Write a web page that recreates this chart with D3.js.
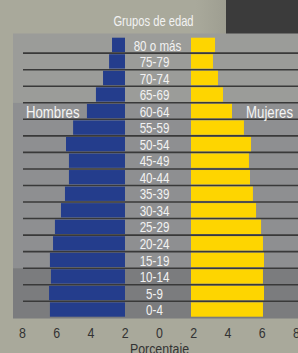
<!DOCTYPE html>
<html>
<head>
<meta charset="utf-8">
<script src="https://cdn.jsdelivr.net/npm/d3@7"></script>
<style>
  html, body { margin: 0; padding: 0; background: #a9a99b; }
  svg { display: block; }
  text { font-family: "Liberation Sans", Arial, sans-serif; }
</style>
</head>
<body>
<svg id="chart" width="298" height="353"></svg>
<script>
// age groups, top to bottom
var ageGroups = ['80 o más','75-79','70-74','65-69','60-64','55-59','50-54','45-49',
                 '40-44','35-39','30-34','25-29','20-24','15-19','10-14','5-9','0-4'];
// % of population
var hombres = [0.75,0.92,1.27,1.68,2.2,3.0,3.41,3.24,3.24,3.47,3.7,4.05,4.16,4.34,4.28,4.39,4.34];
var mujeres = [1.39,1.27,1.56,1.85,2.37,3.06,3.47,3.35,3.41,3.58,3.76,4.05,4.16,4.22,4.16,4.22,4.16];
var tickValues = [-8,-6,-4,-2,0,2,4,6,8];

var W = 298, H = 353;
var narrow = 0.8; // fake condensed face
var svg = d3.select('#chart');

var label = function(x, y, txt, size, fill, anchor) {
  return svg.append('text')
    .attr('transform','translate(' + x + ',' + y + ') scale(' + narrow + ',1)')
    .attr('text-anchor', anchor || 'start')
    .attr('font-size', size).attr('fill', fill)
    .text(txt);
};

// background shading + dark box top right
var defs = svg.append('defs');
var grad = defs.append('linearGradient').attr('id','shade').attr('x1',0).attr('x2',1);
grad.append('stop').attr('offset','0%').attr('stop-color','#a9a99b');
grad.append('stop').attr('offset','100%').attr('stop-color','#9e9e91');
svg.append('rect').attr('x',196).attr('y',0).attr('width',30).attr('height',34).attr('fill','url(#shade)');
svg.append('rect').attr('x',226).attr('y',0).attr('width',W-226).attr('height',34).attr('fill','#3b3b3b');

var y = d3.scaleBand().domain(ageGroups).range([37.7, 316.7]).paddingInner(0.133).paddingOuter(0);
var sep = function(d) { return y(d) + y.bandwidth() + 1.1; };

// panel, three tones
var panel = [
  {from: 33.5, to: sep('65-69'), fill: '#9b9c99'},
  {from: sep('65-69'), to: sep('15-19'), fill: '#8e8f91'},
  {from: sep('15-19'), to: 318.5, fill: '#7b7c7e'}
];
svg.selectAll('.panel').data(panel).enter().append('rect')
  .attr('class','panel')
  .attr('x',13).attr('width',W-13)
  .attr('y',function(d){ return d.from; })
  .attr('height',function(d){ return d.to - d.from; })
  .attr('fill',function(d){ return d.fill; });

// row separators
svg.selectAll('.sep').data(ageGroups.slice(0,-1)).enter().append('line')
  .attr('class','sep')
  .attr('x1',23).attr('x2',W)
  .attr('y1',sep).attr('y2',sep)
  .attr('stroke','#393939').attr('stroke-width',1.6);

var unit = 17.3;
var xM = d3.scaleLinear().domain([0, 8]).range([125, 125 - 8*unit]);
var xF = d3.scaleLinear().domain([0, 8]).range([191, 191 + 8*unit]);

svg.selectAll('.male').data(hombres).enter().append('rect')
  .attr('class','male')
  .attr('x',function(d){ return xM(d); })
  .attr('y',function(d,i){ return y(ageGroups[i]); })
  .attr('width',function(d){ return xM(0) - xM(d); })
  .attr('height',y.bandwidth())
  .attr('fill','#243d8c');

svg.selectAll('.female').data(mujeres).enter().append('rect')
  .attr('class','female')
  .attr('x',xF(0))
  .attr('y',function(d,i){ return y(ageGroups[i]); })
  .attr('width',function(d){ return xF(d) - xF(0); })
  .attr('height',y.bandwidth())
  .attr('fill','#fed500');

ageGroups.forEach(function(d) {
  label(d === '80 o más' ? 157.5 : 154.5, y(d) + y.bandwidth() - 1.5, d, 14.5, '#f2f2f2', 'middle');
});

label(153.5, 26, 'Grupos de edad', 14, '#f2f2f2', 'middle');
label(26, 117.5, 'Hombres', 16.5, '#f4f4f4');
label(293, 117.5, 'Mujeres', 16.5, '#f4f4f4', 'end');

// axis
var xAxis = d3.scaleLinear().domain([-8, 8]).range([22, 296]);
var axis = svg.append('g').attr('transform','translate(0,338.3)')
  .call(d3.axisBottom(xAxis).tickValues(tickValues).tickSize(0).tickPadding(0)
    .tickFormat(function(d){ return Math.abs(d); }));
axis.select('.domain').remove();
axis.selectAll('text').attr('dy',0).attr('y',0)
  .attr('transform','scale(' + narrow + ',1)')
  .attr('font-size',15.5).attr('fill','#333333')
  .attr('font-family','"Liberation Sans", Arial, sans-serif');

label(159.5, 353.5, 'Porcentaje', 15.5, '#333333', 'middle');
</script>
</body>
</html>
